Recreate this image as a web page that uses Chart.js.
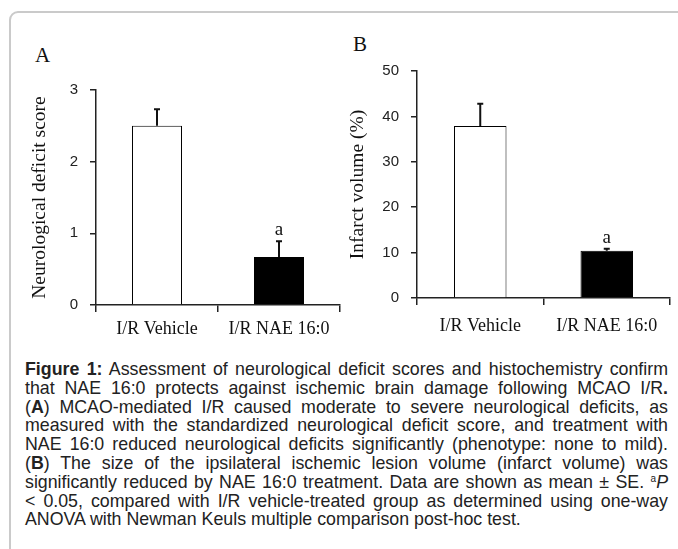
<!DOCTYPE html>
<html>
<head>
<meta charset="utf-8">
<script src="https://cdn.jsdelivr.net/npm/chart.js@4.4.1/dist/chart.umd.min.js"></script>
<style>
  html, body { margin: 0; padding: 0; background: #fff; }
  #page { position: relative; width: 678px; height: 549px; overflow: hidden; background: #fff; }
  #frame { position: absolute; left: 9px; top: 11px; width: 720px; height: 600px;
           border: 2px solid #cacaca; border-radius: 9px; box-sizing: border-box; }
  .panel { position: absolute; font-family: "Liberation Serif", "Times New Roman", serif;
           font-size: 21px; line-height: 21px; color: #111; }
  .chart { position: absolute; top: 0; }
  #caption { position: absolute; left: 25px; top: 360px; width: 643px;
             font-family: "Liberation Sans", Arial, sans-serif; font-size: 17.8px; color: #222; }
  #caption div { line-height: 18.8px; text-align: justify; text-align-last: justify; }
  #caption div.last { text-align-last: left; }
  #caption sup { font-size: 10px; vertical-align: 6px; line-height: 0; }
</style>
</head>
<body>
<div id="page">
  <div id="frame"></div>
  <div class="panel" style="left:35px; top:45px;">A</div>
  <div class="panel" style="left:353px; top:34px;">B</div>
  <canvas id="chartA" class="chart" style="left:0px;" width="345" height="345"></canvas>
  <canvas id="chartB" class="chart" style="left:330px;" width="348" height="345"></canvas>
  <div id="caption">
    <div><b>Figure 1:</b> Assessment of neurological deficit scores and histochemistry confirm</div>
    <div>that NAE 16:0 protects against ischemic brain damage following MCAO I/R<b>.</b></div>
    <div>(<b>A</b>) MCAO-mediated I/R caused moderate to severe neurological deficits, as</div>
    <div>measured with the standardized neurological deficit score, and treatment with</div>
    <div>NAE 16:0 reduced neurological deficits significantly (phenotype: none to mild).</div>
    <div>(<b>B</b>) The size of the ipsilateral ischemic lesion volume (infarct volume) was</div>
    <div>significantly reduced by NAE 16:0 treatment. Data are shown as mean ± SE. <sup>a</sup><i>P</i></div>
    <div>&lt; 0.05, compared with I/R vehicle-treated group as determined using one-way</div>
    <div class="last">ANOVA with Newman Keuls multiple comparison post-hoc test.</div>
  </div>
</div>
<script>
const categories = ["I/R Vehicle", "I/R NAE 16:0"];
const deficitScore = [2.5, 0.67];
const deficitErr = [0.23, 0.22];
const infarctVolume = [37.9, 10.4];
const infarctErr = [4.9, 0.45];
const sigMarks = ["", "a"];
const scoreMax = 3, scoreStep = 1;
const volumeMax = 50, volumeStep = 10;

const serif = '"Liberation Serif", "Times New Roman", serif';
const sans = '"Liberation Sans", Arial, sans-serif';
const ink = "#222";

// upper error bar + significance letter above it
const errorBars = {
  id: "errorBars",
  afterDatasetsDraw(chart, args, opts) {
    const ctx = chart.ctx;
    const y = chart.scales.y;
    const vals = chart.data.datasets[0].data;
    ctx.save();
    ctx.strokeStyle = "#111";
    ctx.lineWidth = 2;
    chart.getDatasetMeta(0).data.forEach((bar, i) => {
      const top = y.getPixelForValue(vals[i] + opts.err[i]);
      const base = y.getPixelForValue(vals[i]);
      ctx.beginPath();
      ctx.moveTo(bar.x, base);
      ctx.lineTo(bar.x, top);
      ctx.moveTo(bar.x - 3, top);
      ctx.lineTo(bar.x + 3, top);
      ctx.stroke();
      if (opts.marks[i]) {
        ctx.fillStyle = "#111";
        ctx.font = "19px " + serif;
        ctx.textAlign = "center";
        ctx.textBaseline = "alphabetic";
        ctx.fillText(opts.marks[i], bar.x, top - 6);
      }
    });
    ctx.restore();
  }
};

function makeChart(id, values, errs, title, max, step, box) {
  return new Chart(document.getElementById(id), {
    type: "bar",
    data: {
      labels: categories,
      datasets: [{
        data: values,
        backgroundColor: ["#ffffff", "#000000"],
        borderColor: "#000",
        borderWidth: 1,
        categoryPercentage: 1,
        barPercentage: box.bar
      }]
    },
    options: {
      responsive: false,
      animation: false,
      events: [],
      layout: { padding: { top: box.top, right: box.right, left: 0, bottom: 0 } },
      plugins: {
        legend: { display: false },
        tooltip: { enabled: false },
        errorBars: { err: errs, marks: sigMarks }
      },
      scales: {
        x: {
          grid: { drawOnChartArea: false, offset: true, tickLength: 7, color: ink, lineWidth: 1.5 },
          border: { color: ink, width: 1.5 },
          ticks: { padding: box.xPad, color: "#111", maxRotation: 0, autoSkip: false,
                   font: { family: serif, size: 18 } },
          afterFit(s) { s.height = box.xh; }
        },
        y: {
          min: 0, max: max,
          ticks: { stepSize: step, padding: 12, color: ink, font: { family: sans, size: 15 } },
          grid: { drawOnChartArea: false, tickLength: 6, color: ink, lineWidth: 1.5 },
          border: { color: ink, width: 1.5 },
          title: { display: true, text: title, color: "#111",
                   font: { family: serif, size: 19.5 }, padding: { top: box.tPad, bottom: 0 } },
          afterFit(s) { s.width = box.yw; }
        }
      }
    },
    plugins: [errorBars]
  });
}

makeChart("chartA", deficitScore, deficitErr, "Neurological deficit score", scoreMax, scoreStep,
  { top: 90, right: 5, yw: 96, xh: 40, xPad: 6, tPad: 28, bar: 0.41 });
makeChart("chartB", infarctVolume, infarctErr, "Infarct volume (%)", volumeMax, volumeStep,
  { top: 71, right: 8, yw: 87, xh: 47, xPad: 10, tPad: 16, bar: 0.415 });
</script>
</body>
</html>
